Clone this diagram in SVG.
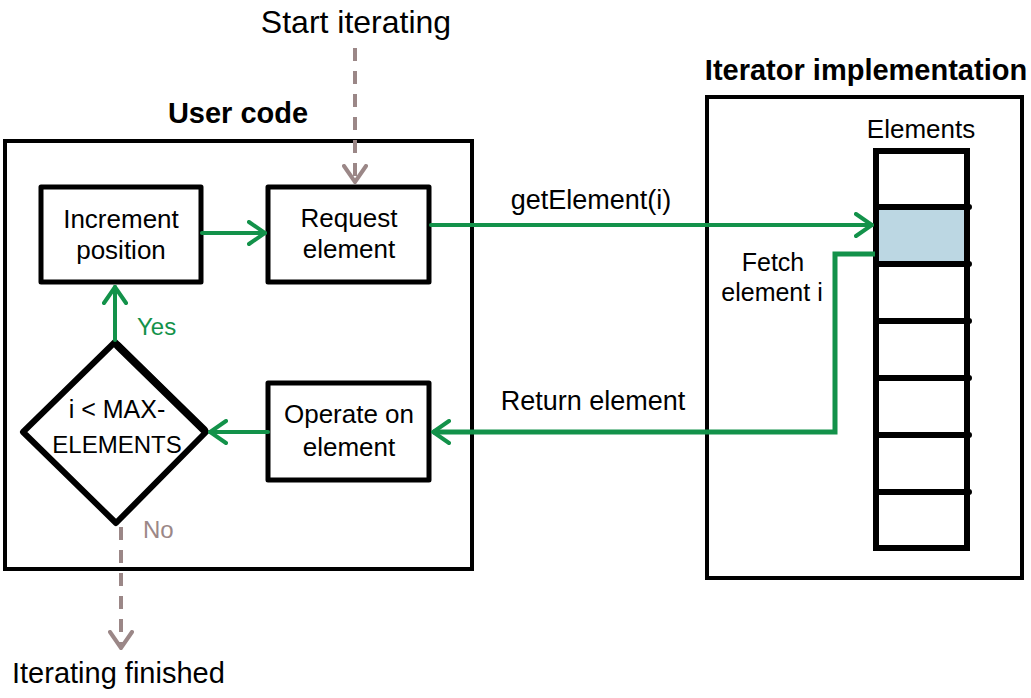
<svg xmlns="http://www.w3.org/2000/svg" width="1031" height="698" viewBox="0 0 1031 698">
<style>
text{font-family:"Liberation Sans",Arial,sans-serif;fill:#000}
.t{font-size:26px;text-anchor:middle}
.title{font-size:29px;font-weight:bold;text-anchor:middle}
.box{fill:#fff;stroke:#000;stroke-width:5;stroke-linejoin:round}
.frame{fill:#fff;stroke:#000;stroke-width:4}
.g{fill:none;stroke:#13924a;stroke-width:4;stroke-linecap:round;stroke-linejoin:round}
.d{fill:none;stroke:#9b8787;stroke-width:4;stroke-dasharray:13 10}
.cell{fill:none;stroke:#000;stroke-width:6;stroke-linecap:round}
</style>
<defs>
<marker id="ag" viewBox="0 0 20 26" refX="18" refY="13" markerWidth="20" markerHeight="26" markerUnits="userSpaceOnUse" orient="auto">
<path d="M2,2 L18,13 L2,24" fill="none" stroke="#13924a" stroke-width="4" stroke-linecap="round"/>
</marker>
<marker id="ad" viewBox="0 0 20 26" refX="18" refY="13" markerWidth="20" markerHeight="26" markerUnits="userSpaceOnUse" orient="auto">
<path d="M2,2 L18,13 L2,24" fill="none" stroke="#9b8787" stroke-width="4" stroke-linecap="round"/>
</marker>
</defs>
<rect width="1031" height="698" fill="#fff"/>

<g id="user-code">
<rect class="frame" x="5" y="141" width="467" height="428"/>
<text class="title" x="238" y="123">User code</text>
</g>

<g id="iterator-impl">
<rect class="frame" x="707" y="97" width="315" height="481"/>
<text class="title" x="866" y="80">Iterator implementation</text>
</g>

<g id="elements">
<text class="t" x="921" y="138">Elements</text>
<rect x="877" y="207" width="90" height="57" fill="#bcd7e3"/>
<rect class="cell" x="876" y="151" width="91" height="397"/>
<path class="cell" d="M876,207 H969 M876,264 H969 M876,321 H969 M876,378 H969 M876,435 H969 M876,492 H969"/>
</g>

<g id="start">
<text class="t" x="356" y="33" style="font-size:32px">Start iterating</text>
</g>

<g id="finished">
<text x="12" y="683" style="font-size:29px">Iterating finished</text>
</g>

<g id="increment">
<rect class="box" x="41" y="187" width="160" height="95"/>
<text class="t" x="121" y="228">Increment</text>
<text class="t" x="121" y="259">position</text>
</g>

<g id="request">
<rect class="box" x="268" y="187" width="161" height="95"/>
<text class="t" x="349" y="227">Request</text>
<text class="t" x="349" y="258">element</text>
</g>

<g id="operate">
<rect class="box" x="268" y="383" width="161" height="97"/>
<text class="t" x="349" y="423">Operate on</text>
<text class="t" x="349" y="456">element</text>
</g>

<g id="decision">
<path d="M115,342 L206,432 L116,523 L23,432 Z" fill="#fff" stroke="#000" stroke-width="6" stroke-linejoin="round"/>
<path d="M118,346 L204,430" stroke="#000" stroke-width="8" stroke-linecap="round"/>
<text class="t" x="117" y="418" style="font-size:25px">i &lt; MAX-</text>
<text class="t" x="117" y="453" style="font-size:24px">ELEMENTS</text>
</g>

<g id="connectors">
<line class="d" x1="355" y1="48" x2="355" y2="182" marker-end="url(#ad)"/>
<line class="g" x1="202" y1="233" x2="265" y2="233" marker-end="url(#ag)"/>
<line class="g" x1="431" y1="225" x2="872" y2="225" marker-end="url(#ag)"/>
<path class="g" d="M875,254 L835,254 L835,432 L433,432" style="stroke-width:5;stroke-linecap:butt;stroke-linejoin:miter" marker-end="url(#ag)"/>
<line class="g" x1="268" y1="432" x2="210" y2="432" marker-end="url(#ag)"/>
<line class="g" x1="115" y1="340" x2="115" y2="287" marker-end="url(#ag)"/>
<line class="d" x1="121" y1="527" x2="121" y2="648" marker-end="url(#ad)"/>
<text x="591" y="209" class="t" style="font-size:27px">getElement(i)</text>
<text x="593" y="410" class="t" style="font-size:27px">Return element</text>
<text x="773" y="271" class="t" style="font-size:25px">Fetch</text>
<text x="772" y="301" class="t" style="font-size:25px">element i</text>
<text x="137" y="335" style="font-size:24px;fill:#13924a">Yes</text>
<text x="143" y="538" style="font-size:24px;fill:#9b8787">No</text>
</g>
</svg>
